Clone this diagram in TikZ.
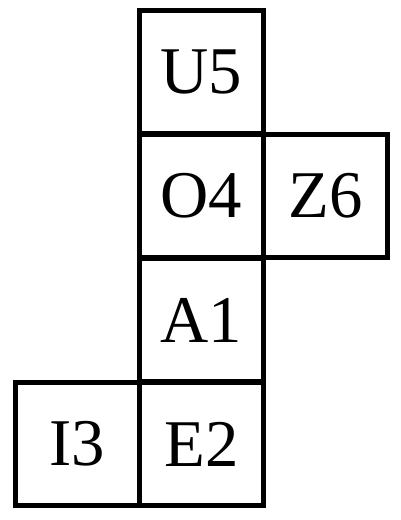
\documentclass[tikz,border=0pt]{standalone}
\usepackage{fontspec}
\setmainfont{Liberation Serif}
\tikzstyle{face}=[draw, line width=0.1cm, minimum size=2.48cm, inner sep=0pt, font=\fontsize{38}{40}\selectfont]

\begin{document}
\begin{tikzpicture}[x=0.02cm, y=0.02cm]
      \useasboundingbox (0,0) rectangle (400,520);
      \node (u5) at (201.5, 448) [face] {U5};
      \node (o4) at (201.5, 324) [face] {O4};
      \node (z6) at (325.5, 324) [face] {Z6};
      \node (a1) at (201.5, 200) [face] {A1};
      \node (e2) at (201.5, 76) [face] {E2};
      \node (i3) at (77.5, 76) [face] {I3};
    \end{tikzpicture}
\end{document}
